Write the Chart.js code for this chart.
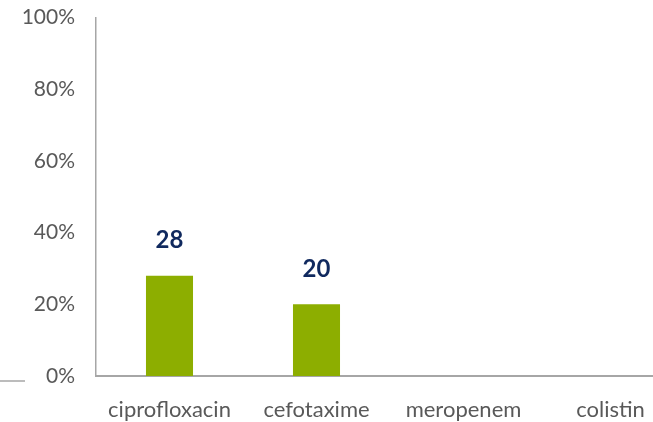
<!doctype html>
<html>
<head>
  <title>Resistance</title>
  <script src="https://cdn.jsdelivr.net/npm/chart.js"></script>
  <style>
    html, body { margin: 0; padding: 0; background: #fff; overflow: hidden; }
    #chart { margin-top: -8px; }
  </style>
</head>
<body>
<canvas id="chart" width="684" height="430"></canvas>
<script>
    const drugs = ['ciprofloxacin', 'cefotaxime', 'meropenem', 'colistin'];
    const resistant = [28, 20, 0, 0];
    const yTicks = [0, 20, 40, 60, 80, 100];

    const font = 'Lato, "Open Sans", sans-serif';

    // numbers above the bars, plus the little stray line at the left
    const extras = {
        id: 'extras',
        afterDatasetsDraw(chart) {
            const c = chart.ctx;
            c.save();
            c.fillStyle = '#10295e';
            c.font = 'bold 24px ' + font;
            c.textAlign = 'center';
            c.textBaseline = 'middle';
            chart.getDatasetMeta(0).data.forEach((bar, i) => {
                if (resistant[i] > 0) c.fillText(resistant[i], bar.x, bar.y - 35);
            });
            c.strokeStyle = '#a6a6a6';
            c.lineWidth = 1.5;
            c.beginPath();
            c.moveTo(0, chart.chartArea.bottom + 5);
            c.lineTo(25, chart.chartArea.bottom + 5);
            c.stroke();
            c.restore();
        }
    };

    const chart = new Chart(document.getElementById('chart'), {
        type: 'bar',
        data: {
            labels: drugs,
            datasets: [{
                data: resistant,
                backgroundColor: '#8dae00',
                barPercentage: 0.32,
                categoryPercentage: 1
            }]
        },
        options: {
            responsive: false,
            animation: false,
            layout: { padding: 0 },
            plugins: { legend: { display: false }, tooltip: { enabled: false } },
            scales: {
                x: {
                    grid: { display: false },
                    border: { color: '#a6a6a6', width: 2 },
                    ticks: { color: '#595959', font: { family: font, size: 22 }, padding: 13, maxRotation: 0 },
                    afterFit: s => { s.height = 46; }
                },
                y: {
                    min: 0,
                    max: 100,
                    afterBuildTicks: s => { s.ticks = yTicks.map(v => ({ value: v })); },
                    grid: { display: false },
                    border: { color: '#a6a6a6', width: 1.5 },
                    ticks: {
                        color: '#595959',
                        font: { family: font, size: 21 },
                        padding: 13,
                        callback: v => v + '%'
                    },
                    afterFit: s => { s.width = 96; }
                }
            }
        },
        plugins: [extras]
    });
</script>
</body>
</html>
